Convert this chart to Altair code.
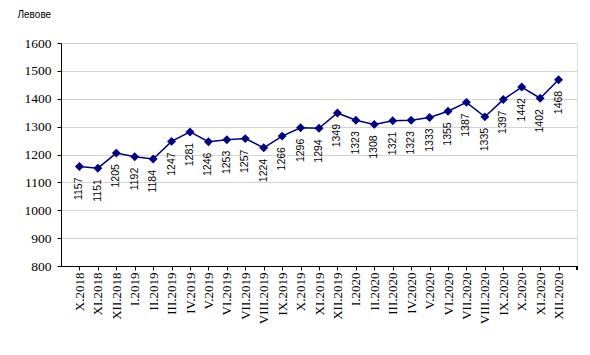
import altair as alt
import pandas as pd

months = ["X.2018", "XI.2018", "XII.2018",
          "I.2019", "II.2019", "III.2019", "IV.2019", "V.2019", "VI.2019",
          "VII.2019", "VIII.2019", "IX.2019", "X.2019", "XI.2019", "XII.2019",
          "I.2020", "II.2020", "III.2020", "IV.2020", "V.2020", "VI.2020",
          "VII.2020", "VIII.2020", "IX.2020", "X.2020", "XI.2020", "XII.2020"]
values = [1157, 1151, 1205, 1192, 1184, 1247, 1281, 1246, 1253, 1257, 1224, 1266,
          1296, 1294, 1349, 1323, 1308, 1321, 1323, 1333, 1355, 1387, 1335, 1397,
          1442, 1402, 1468]
y_ticks = [800, 900, 1000, 1100, 1200, 1300, 1400, 1500, 1600]

df = pd.DataFrame({"month": months, "value": values})

x = alt.X("month:N", sort=months,
          scale=alt.Scale(type="point", padding=1),
          axis=alt.Axis(title=None, labelAngle=-90, labelFont="Liberation Serif",
                        labelFontSize=13, labelColor="#000", domainColor="#000",
                        tickColor="#000", tickSize=4,
                        labelPadding=2, grid=False))
y = alt.Y("value:Q",
          scale=alt.Scale(domain=[800, 1600], nice=False, zero=False),
          axis=alt.Axis(values=y_ticks, format="d", title="Левове", titleAngle=0,
                        titleX=-44, titleY=-29, titleAlign="left",
                        titleBaseline="middle", titleFont="Liberation Sans",
                        titleFontSize=10, titleFontWeight="normal", titleColor="#000",
                        labelFont="Liberation Serif", labelFontSize=13.5,
                        labelColor="#000", domainColor="#000", tickColor="#000",
                        tickSize=4, labelPadding=6, gridColor="#d4d4d4",
                        gridWidth=1))

base = alt.Chart(df).encode(x=x, y=y)

line = base.mark_line(color="#000080", strokeWidth=1.5)
pts = base.mark_point(shape="diamond", filled=True, size=80, color="#000080", opacity=1)
labels = base.mark_text(angle=270, align="right", baseline="middle", dx=-11,
                        font="Liberation Sans", fontSize=10.5, color="#000").encode(
    text="value:Q")

end_tick = alt.Chart(df).mark_rule(color="#000", strokeWidth=1).encode(
    x=alt.value(516), y=alt.value(223), y2=alt.value(227))

chart = (line + pts + labels + end_tick).properties(
    width=516, height=223,
    autosize=alt.AutoSizeParams(type="none"),
    padding={"left": 61, "top": 43, "right": 13, "bottom": 89},
).configure_view(stroke=None).configure(background="white")

chart.save("out.html", embed_options={"renderer": "svg", "actions": False})
